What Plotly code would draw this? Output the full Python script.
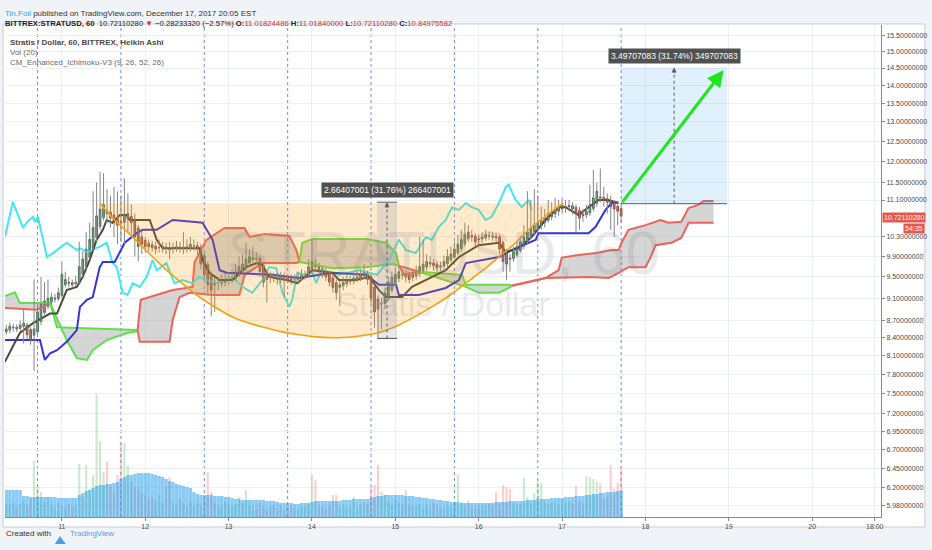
import math
import plotly.graph_objects as go

# ---------------- data ----------------
# hourly Heikin Ashi bars; x = hours since 11 Dec 00:00
bar_hours = list(range(-16, 162))

ha_open = [
    8.50, 8.53, 8.57, 8.58, 8.56, 8.59, 8.62, 8.54, 8.44, 8.50,
    8.68, 8.84, 8.95, 9.03, 9.08, 9.09, 9.15, 9.35, 9.40, 9.39,
    9.37, 9.39, 9.55, 9.70, 9.88, 10.07, 10.29, 10.52, 10.71, 10.86,
    10.83, 10.77, 10.69, 10.62, 10.61, 10.68, 10.74, 10.67, 10.49, 10.30,
    10.23, 10.17, 10.14, 10.11, 10.08, 10.08, 10.09, 10.08, 10.06, 10.07,
    10.09, 10.09, 10.07, 10.09, 10.12, 10.12, 10.09, 9.92, 9.74, 9.55,
    9.40, 9.38, 9.38, 9.40, 9.43, 9.44, 9.47, 9.54, 9.62, 9.69,
    9.77, 9.84, 9.86, 9.86, 9.73, 9.57, 9.51, 9.51, 9.50, 9.48,
    9.49, 9.49, 9.47, 9.45, 9.45, 9.48, 9.52, 9.52, 9.61, 9.71,
    9.71, 9.66, 9.61, 9.56, 9.48, 9.39, 9.30, 9.33, 9.37, 9.41,
    9.42, 9.45, 9.48, 9.52, 9.56, 9.51, 9.31, 9.08, 8.99, 9.00,
    9.10, 9.25, 9.38, 9.47, 9.54, 9.55, 9.53, 9.49, 9.52, 9.56,
    9.63, 9.69, 9.75, 9.77, 9.75, 9.72, 9.71, 9.76, 9.83, 9.89,
    9.97, 10.06, 10.16, 10.26, 10.33, 10.32, 10.26, 10.26, 10.28, 10.32,
    10.32, 10.31, 10.30, 10.18, 9.99, 9.87, 9.86, 9.93, 10.02, 10.11,
    10.21, 10.31, 10.41, 10.48, 10.54, 10.60, 10.65, 10.73, 10.79, 10.85,
    10.90, 10.95, 10.95, 10.97, 10.94, 10.87, 10.79, 10.77, 10.81, 10.91,
    11.03, 11.17, 11.16, 11.13, 11.09, 11.02, 10.96, 10.91]
ha_high = [
    8.62, 8.66, 8.64, 8.63, 8.70, 8.90, 8.66, 8.58, 9.45, 9.00,
    9.50, 9.40, 9.45, 9.20, 9.18, 9.30, 9.80, 9.60, 9.50, 9.45,
    9.52, 10.20, 10.00, 10.40, 10.60, 11.30, 11.50, 11.75, 11.72, 11.35,
    11.20, 11.40, 11.30, 11.20, 11.60, 11.25, 11.00, 10.80, 10.55, 10.40,
    10.30, 10.25, 10.22, 10.20, 10.25, 10.20, 10.18, 10.20, 10.18, 10.22,
    10.20, 10.40, 10.25, 10.30, 10.25, 10.20, 10.15, 9.98, 9.80, 9.60,
    9.48, 9.50, 9.55, 9.58, 9.60, 9.65, 9.75, 9.90, 9.95, 10.18,
    10.05, 10.10, 9.98, 9.92, 9.78, 9.62, 9.60, 9.58, 9.58, 9.60,
    9.58, 9.55, 9.55, 9.55, 9.60, 9.65, 9.62, 9.85, 10.24, 9.85,
    9.78, 9.72, 9.68, 9.62, 9.55, 9.45, 9.42, 9.50, 9.55, 9.52,
    9.58, 9.60, 9.65, 9.75, 9.62, 9.55, 9.35, 9.15, 9.10, 9.30,
    9.50, 9.60, 9.68, 9.72, 9.65, 9.62, 9.60, 9.65, 9.72, 10.30,
    10.25, 9.95, 9.90, 9.85, 9.82, 9.80, 9.92, 10.05, 10.10, 10.20,
    10.35, 10.45, 10.60, 10.55, 10.45, 10.38, 10.35, 10.40, 10.45, 10.42,
    10.40, 10.38, 10.35, 10.22, 10.05, 9.95, 10.10, 10.20, 10.32, 10.55,
    11.30, 11.10, 11.35, 11.20, 10.95, 10.90, 11.10, 11.05, 11.15, 11.10,
    11.15, 11.10, 11.10, 11.05, 11.00, 10.95, 10.90, 11.00, 11.45, 11.80,
    11.50, 11.83, 11.40, 11.25, 11.20, 11.10, 11.05, 11.00]
ha_low = [
    8.45, 8.48, 8.50, 8.50, 8.52, 8.30, 8.38, 8.28, 7.85, 8.45,
    8.62, 8.80, 8.90, 8.98, 9.02, 9.05, 9.10, 9.30, 9.30, 9.28,
    9.32, 9.35, 9.50, 9.65, 9.85, 10.00, 10.20, 10.45, 10.65, 10.60,
    10.50, 10.30, 10.15, 10.20, 10.15, 10.40, 10.35, 9.90, 9.80, 9.95,
    9.98, 10.00, 10.00, 9.95, 9.98, 9.98, 9.95, 9.85, 9.96, 10.00,
    9.98, 9.95, 9.98, 10.00, 10.02, 9.95, 9.65, 9.45, 9.20, 8.77,
    8.85, 9.25, 9.30, 9.32, 9.35, 9.38, 9.42, 9.50, 9.58, 9.62,
    9.70, 9.78, 9.75, 9.50, 9.30, 9.02, 9.38, 9.40, 9.35, 9.38,
    9.12, 9.38, 9.35, 9.38, 9.40, 9.42, 9.45, 9.48, 9.58, 9.60,
    9.50, 9.48, 9.42, 9.32, 9.20, 9.07, 8.95, 9.25, 9.30, 9.35,
    9.36, 9.40, 9.42, 9.45, 9.35, 9.00, 8.57, 8.40, 8.55, 8.90,
    9.05, 9.20, 9.30, 9.40, 9.45, 9.40, 9.38, 9.42, 9.45, 9.50,
    9.58, 9.62, 9.68, 9.62, 9.60, 9.62, 9.65, 9.70, 9.78, 9.85,
    9.92, 10.00, 10.10, 10.20, 10.20, 10.12, 10.15, 10.18, 10.22, 10.24,
    10.22, 10.20, 9.95, 9.60, 9.44, 9.60, 9.80, 9.88, 9.98, 10.05,
    10.15, 10.25, 10.35, 10.40, 10.45, 10.50, 10.60, 10.65, 10.70, 10.75,
    10.80, 10.82, 10.85, 10.78, 10.40, 10.45, 10.62, 10.70, 10.75, 10.85,
    10.95, 11.05, 10.95, 10.80, 10.45, 10.30, 10.55, 10.60]
ha_close = [
    8.55, 8.60, 8.58, 8.55, 8.62, 8.65, 8.45, 8.35, 8.55, 8.85,
    9.00, 9.05, 9.10, 9.12, 9.10, 9.20, 9.55, 9.45, 9.38, 9.35,
    9.40, 9.70, 9.85, 10.05, 10.25, 10.50, 10.75, 10.90, 11.00, 10.80,
    10.70, 10.60, 10.55, 10.60, 10.75, 10.80, 10.60, 10.30, 10.10, 10.15,
    10.10, 10.10, 10.08, 10.05, 10.08, 10.10, 10.06, 10.04, 10.08, 10.10,
    10.08, 10.05, 10.10, 10.15, 10.12, 10.05, 9.75, 9.55, 9.35, 9.25,
    9.35, 9.38, 9.42, 9.45, 9.45, 9.50, 9.60, 9.70, 9.75, 9.85,
    9.90, 9.88, 9.85, 9.60, 9.40, 9.45, 9.50, 9.48, 9.45, 9.50,
    9.48, 9.45, 9.42, 9.45, 9.50, 9.55, 9.52, 9.70, 9.80, 9.70,
    9.60, 9.55, 9.50, 9.40, 9.30, 9.20, 9.35, 9.40, 9.45, 9.42,
    9.48, 9.50, 9.55, 9.60, 9.45, 9.10, 8.85, 8.90, 9.00, 9.20,
    9.40, 9.50, 9.55, 9.60, 9.55, 9.50, 9.45, 9.55, 9.60, 9.70,
    9.75, 9.80, 9.78, 9.72, 9.68, 9.70, 9.80, 9.90, 9.95, 10.05,
    10.15, 10.25, 10.35, 10.40, 10.30, 10.20, 10.25, 10.30, 10.35, 10.32,
    10.30, 10.28, 10.05, 9.80, 9.75, 9.85, 10.00, 10.10, 10.20, 10.30,
    10.40, 10.50, 10.55, 10.60, 10.65, 10.70, 10.80, 10.85, 10.90, 10.95,
    11.00, 10.95, 10.98, 10.90, 10.80, 10.70, 10.75, 10.85, 11.00, 11.15,
    11.30, 11.15, 11.10, 11.05, 10.95, 10.90, 10.85, 10.75]

volume = [
    14, 12, 15, 10, 13, 16, 12, 18, 56, 30,
    25, 15, 20, 12, 10, 14, 11, 9, 13, 10,
    12, 53, 20, 52, 28, 42, 123, 76, 45, 55,
    30, 25, 42, 74, 74, 51, 35, 30, 28, 25,
    22, 18, 20, 16, 22, 15, 30, 40, 15, 12,
    18, 14, 10, 16, 12, 14, 11, 20, 45, 25,
    14, 12, 10, 15, 12, 11, 13, 20, 14, 27,
    12, 10, 9, 14, 11, 8, 10, 12, 9, 11,
    7, 10, 12, 9, 8, 10, 11, 13, 42, 37,
    12, 10, 9, 11, 22, 22, 10, 12, 9, 11,
    20, 10, 12, 14, 13, 30, 32, 52, 25, 22,
    15, 12, 18, 14, 12, 27, 12, 10, 11, 13,
    9, 12, 10, 14, 11, 9, 10, 12, 11, 13,
    43, 15, 12, 17, 10, 9, 11, 12, 10, 13,
    11, 25, 14, 32, 30, 28, 14, 12, 13, 39,
    20, 14, 24, 36, 34, 15, 13, 14, 16, 12,
    18, 14, 15, 13, 31, 16, 14, 41, 40, 38,
    35, 34, 18, 20, 52, 28, 34, 50]
volume_ma = [
    27, 27, 27, 27, 27, 21, 21, 20, 20, 20,
    20, 20, 20, 20, 20, 19, 19, 19, 19, 19,
    19, 22, 24, 26, 27, 29, 31, 32, 32, 33,
    33, 34, 35, 38, 40, 42, 42, 43, 44, 44,
    44, 44, 43, 42, 41, 40, 38, 36, 35, 33,
    32, 31, 30, 29, 25, 23, 22, 22, 22, 22,
    21, 21, 21, 20, 20, 19, 18, 18, 17, 17,
    17, 17, 17, 17, 17, 16, 16, 16, 15, 14,
    14, 14, 14, 13, 13, 14, 14, 14, 15, 16,
    16, 16, 16, 16, 16, 16, 16, 17, 17, 17,
    18, 18, 18, 18, 18, 19, 20, 21, 21, 22,
    22, 22, 22, 22, 22, 21, 21, 21, 20, 20,
    19, 19, 18, 18, 17, 17, 16, 16, 15, 15,
    15, 14, 14, 14, 14, 14, 14, 14, 14, 14,
    14, 15, 15, 15, 15, 16, 16, 16, 16, 16,
    17, 17, 17, 18, 18, 18, 18, 19, 19, 19,
    19, 20, 20, 20, 21, 21, 21, 22, 22, 23,
    23, 24, 24, 25, 25, 25, 26, 26]

# Ichimoku lines (hours, price)
tenkan_h = [-16.4, -12.1, -8.3, -3.4, -1.4, 1.4, 4.3, 6.0, 8.0, 10.0, 11.8, 12.9, 14.6, 16.7, 18.7,
            19.5, 25.3, 27.3, 29.0, 39.6, 40.5, 42.5, 45.4, 49.1, 53.1, 56.0, 57.7, 59.7, 64.6, 67.8,
            72.1, 77.8, 79.8, 84.7, 88.4, 91.3, 93.3, 97.9, 100.8, 106.5, 110.5, 114.3, 120.0, 125.8,
            127.8, 131.5, 135.2, 139.2, 143.0, 145.0, 148.7, 151.6, 154.5, 157.3, 160.2]
tenkan = [8.00, 8.48, 8.65, 8.82, 8.82, 9.25, 9.31, 9.50, 9.83, 10.24, 10.45, 10.66, 10.60, 10.77, 10.77,
          10.66, 10.66, 10.24, 10.07, 10.07, 9.83, 9.58, 9.44, 9.44, 9.69, 9.77, 9.73, 9.50, 9.44, 9.38,
          9.63, 9.58, 9.44, 9.44, 9.50, 9.25, 9.12, 9.12, 9.31, 9.50, 9.63, 9.89, 10.13, 10.18,
          9.99, 10.07, 10.30, 10.66, 10.94, 10.94, 10.77, 10.94, 11.10, 11.10, 11.03]
kijun_h = [-16.4, -6.3, -4.9, -3.4, -1.4, 1.4, 4.3, 5.2, 7.2, 8.9, 10.9, 11.8, 15.2, 18.1, 21.5,
           23.3, 27.3, 31.9, 37.6, 40.5, 43.4, 45.4, 47.4, 60.6, 68.3, 77.8, 87.6, 91.3, 96.2, 97.0,
           102.8, 106.5, 110.5, 114.3, 116.3, 125.8, 129.5, 134.4, 136.4, 137.2, 151.6, 153.6, 156.5,
           158.2, 160.2]
kijun = [8.36, 8.36, 8.03, 8.14, 8.19, 8.33, 8.53, 8.94, 9.07, 9.12, 9.69, 9.79, 9.79, 10.18, 10.38,
         10.45, 10.45, 10.66, 10.62, 10.60, 10.24, 9.63, 9.58, 9.54, 9.48, 9.58, 9.54, 9.35, 9.35, 9.16,
         9.16, 9.22, 9.29, 9.44, 9.77, 9.89, 10.03, 10.18, 10.24, 10.38, 10.38, 10.51, 10.88,
         11.03, 11.05]
chikou_h = [-16.4, -14.1, -11.2, -10.0, -8.3, -7.8, -6.9, -4.3, -2.6, 1.4,
            4.3, 5.2, 7.2, 10.9, 12.9, 14.6, 15.8, 17.5, 18.9, 20.4,
            22.4, 24.4, 26.1, 27.3, 30.1, 32.4, 34.7, 37.6, 39.6, 41.6,
            44.5, 49.1, 52.0, 54.8, 57.7, 59.7, 61.7, 63.5, 65.5, 66.3,
            67.8, 69.8, 72.1, 73.2, 74.9, 79.8, 85.6, 90.7, 94.2, 97.0,
            99.1, 101.9, 104.8, 106.5, 108.5, 110.5, 112.3, 114.3, 116.3, 118.0,
            120.0, 122.0, 123.7, 125.8, 127.8, 128.6, 130.6, 132.4, 134.4, 135.2]
chikou = [10.30, 11.06, 10.49, 10.62, 10.73, 10.62, 10.73, 9.89, 9.97, 10.18,
          10.03, 10.07, 9.99, 10.10, 10.18, 9.77, 9.69, 9.20, 9.16, 9.38,
          9.31, 9.50, 9.83, 9.63, 9.77, 9.38, 9.44, 9.38, 9.50, 9.44,
          9.38, 9.50, 9.31, 9.20, 9.44, 9.69, 9.67, 9.20, 8.94, 9.07,
          9.58, 9.54, 9.58, 9.38, 9.63, 9.54, 9.63, 9.54, 9.83, 10.24,
          10.03, 9.97, 10.30, 10.24, 10.51, 10.66, 10.94, 10.88, 11.03, 10.94,
          10.88, 10.66, 10.73, 11.03, 11.40, 11.45, 11.10, 10.94, 11.10, 10.88]
# cloud edges; bull flag (1 green / 0 red) = colour of the segment that starts at the point
span_hi_h = [-16.4, -13.5, -12.1, -3.4, -1.4, 21.8, 22.7, 31.9, 37.6, 38.2, 41.6, 46.8, 52.6, 54.0,
             58.3, 65.5, 67.5, 68.4, 69.2, 72.1, 87.6, 93.3, 96.2, 97.1, 98.5, 102.8, 106.6, 115.2,
             116.3, 128.7, 129.5, 134.4, 139.3, 143.0, 143.9, 148.8, 153.7, 158.3, 160.3, 161.1,
             163.1, 168.0, 172.3, 174.6, 178.3, 180.4, 183.2, 184.7, 187.6]
span_hi = [9.14, 9.21, 9.01, 9.01, 8.58, 8.53, 9.07, 9.25, 9.31, 9.79, 10.24, 10.49, 10.49, 10.30,
           10.36, 10.32, 10.03, 9.79, 10.18, 10.26, 10.26, 10.18, 9.97, 9.71, 9.69, 9.60, 9.58, 9.54,
           9.35, 9.35, 9.33, 9.40, 9.48, 9.63, 9.88, 9.93, 9.97, 10.03, 10.03, 10.18,
           10.45, 10.55, 10.66, 10.60, 10.62, 10.92, 10.99, 11.08, 11.08]
span_hi_bull = [1, 1, 1, 1, 1, 0, 0, 0, 0, 0, 0, 0, 0, 0, 0, 0, 0, 1, 1, 1, 1, 1, 1, 0, 0,
                1, 1, 1, 1, 1, 0, 0, 0, 0, 0, 0, 0, 0, 0, 0, 0, 0, 0, 0, 0, 0, 0, 0, 0]
span_lo_h = [-16.4, -7.2, -4.9, -3.4, 1.4, 4.3, 7.2, 8.9, 12.9, 18.7, 21.5, 21.8, 22.4, 31.0, 31.9,
             33.9, 36.8, 43.4, 51.1, 52.6, 57.7, 67.5, 68.4, 77.8, 87.6, 95.1, 97.1, 98.5, 102.8,
             116.3, 120.0, 125.8, 128.7, 129.5, 139.3, 151.7, 157.4, 160.3, 163.1, 168.0, 169.5,
             170.9, 175.5, 178.3, 180.4, 187.6]
span_lo = [8.92, 8.89, 8.96, 9.01, 8.36, 8.06, 8.03, 8.19, 8.36, 8.48, 8.51, 8.53, 8.33, 8.33, 8.71,
           9.12, 9.20, 9.16, 9.16, 9.54, 9.77, 9.77, 9.79, 9.67, 9.69, 9.75, 9.71, 9.54, 9.60,
           9.31, 9.20, 9.20, 9.29, 9.33, 9.48, 9.50, 9.48, 9.58, 9.69, 9.69, 9.89,
           10.13, 10.18, 10.28, 10.60, 10.60]
span_lo_bull = [0, 0, 0, 1, 1, 1, 1, 1, 1, 1, 1, 0, 0, 0, 0, 0, 0, 0, 0, 0, 0, 0, 1, 1, 1, 1, 0, 0,
                1, 1, 1, 1, 1, 0, 0, 0, 0, 0, 0, 0, 0, 0, 0, 0, 0, 0]

# drawings
arc_h = [10.91, 15.22, 20.38, 25.27, 30.15, 34.74, 39.62, 44.50, 49.10, 53.98, 58.86, 63.45, 68.33,
         74.07, 79.82, 85.56, 90.73, 97.04, 106.52, 111.40, 116.28, 120.88, 125.76, 130.64, 135.23,
         140.11, 144.42]
arc_price = [11.03, 10.66, 10.30, 9.95, 9.63, 9.37, 9.12, 8.92, 8.76, 8.65, 8.57, 8.50, 8.45,
             8.41, 8.40, 8.43, 8.48, 8.62, 8.94, 9.14, 9.38, 9.61, 9.89, 10.18, 10.51, 10.79, 11.03]
measure1 = dict(h0=90.7, h1=96.5, lo=8.38693, hi=11.05100, label="2.66407001 (31.76%) 266407001")
measure2 = dict(h0=161.0, h1=191.5, lo=11.01800, hi=14.51507, label="3.49707083 (31.74%) 349707083")
arrow_from = (161.0, 11.018)
arrow_to = (190.5, 14.44)

price_ticks = [15.5, 15.0, 14.5, 14.0, 13.5, 13.0, 12.5, 12.0, 11.5, 11.1, 10.3, 9.9, 9.5, 9.1,
               8.7, 8.4, 8.1, 7.8, 7.5, 7.2, 6.95, 6.7, 6.45, 6.2, 5.98]
day_ticks_h = [0, 24, 48, 72, 96, 120, 144, 168, 192, 216, 234]
day_labels = ["11", "12", "13", "14", "15", "16", "17", "18", "19", "20", "18:00"]
session_breaks_h = [-7, 17, 41, 65, 89, 113, 137, 161]
last_price = 10.72110280
countdown = "54:35"

# ---------------- layout geometry / style ----------------
W, H = 932, 550
ML, MR, MT, MB = 5, 49, 25, 33
PW, PH = W - ML - MR, H - MT - MB
FONT = "Liberation Sans, Arial, sans-serif"
GREEN_L, RED_L = "#5fe04a", "#ee625a"


def fx(px):
    return (px - ML) / PW


def fy(py):
    return (H - MB - py) / PH


lg = math.log10
n = min(len(bar_hours), len(ha_open), len(ha_high), len(ha_low), len(ha_close))
bh = bar_hours[:n]
o, c = ha_open[:n], ha_close[:n]
hi = [max(a, b, d) for a, b, d in zip(ha_high[:n], o, c)]
lo = [min(a, b, d) for a, b, d in zip(ha_low[:n], o, c)]

fig = go.Figure()

# volume (base axis y)
nv = min(n, len(volume), len(volume_ma))
vcol = ["rgba(76,175,80,0.28)" if c[i] >= o[i] else "rgba(239,83,80,0.28)" for i in range(nv)]
fig.add_trace(go.Bar(x=bh[:nv], y=volume[:nv], width=0.62, marker=dict(color=vcol, line=dict(width=0)),
                     yaxis="y", hoverinfo="skip"))
fig.add_trace(go.Bar(x=bh[:nv], y=volume_ma[:nv], width=0.95,
                     marker=dict(color="rgba(40,160,235,0.55)", line=dict(width=0)),
                     yaxis="y", hoverinfo="skip"))

# cloud fill
fig.add_trace(go.Scatter(x=span_hi_h, y=span_hi, mode="lines", line=dict(width=0), yaxis="y2",
                         hoverinfo="skip"))
fig.add_trace(go.Scatter(x=span_lo_h, y=span_lo, mode="lines", line=dict(width=0), yaxis="y2",
                         fill="tonexty", fillcolor="rgba(128,128,128,0.33)", hoverinfo="skip"))


def add_colored(hs, vs, flags):
    s = 0
    for k in range(1, len(hs)):
        if flags[k] != flags[s] or k == len(hs) - 1:
            fig.add_trace(go.Scatter(x=hs[s:k + 1], y=vs[s:k + 1], mode="lines", yaxis="y2",
                                     line=dict(color=GREEN_L if flags[s] else RED_L, width=2),
                                     hoverinfo="skip"))
            s = k


add_colored(span_hi_h, span_hi, span_hi_bull)
add_colored(span_lo_h, span_lo, span_lo_bull)

fig.add_trace(go.Scatter(x=chikou_h, y=chikou, mode="lines", line=dict(color="#3fe8f2", width=2),
                         yaxis="y2", hoverinfo="skip"))
fig.add_trace(go.Scatter(x=kijun_h, y=kijun, mode="lines", line=dict(color="#3434dc", width=2),
                         yaxis="y2", hoverinfo="skip"))
fig.add_trace(go.Scatter(x=tenkan_h, y=tenkan, mode="lines", line=dict(color="#4a4a3a", width=2),
                         yaxis="y2", hoverinfo="skip"))

# candle wicks and bodies
wx, wy = [], []
for i in range(n):
    wx += [bh[i], bh[i], None]
    wy += [lo[i], hi[i], None]
fig.add_trace(go.Scatter(x=wx, y=wy, mode="lines", line=dict(color="#858585", width=1), yaxis="y2",
                         hoverinfo="skip"))
fig.add_trace(go.Candlestick(
    x=bh, open=o, close=c, high=[max(a, b) for a, b in zip(o, c)], low=[min(a, b) for a, b in zip(o, c)],
    yaxis="y2", whiskerwidth=0,
    increasing=dict(line=dict(color="#2f6240", width=0.8), fillcolor="#5d9c72"),
    decreasing=dict(line=dict(color="#8c2b1d", width=0.8), fillcolor="#d9553f"),
    hoverinfo="skip"))

# cup arc drawing
fig.add_trace(go.Scatter(x=arc_h, y=arc_price, mode="lines", fill="toself", line=dict(width=0, shape="spline"),
                         fillcolor="rgba(255,152,0,0.2)", yaxis="y2", hoverinfo="skip"))
fig.add_trace(go.Scatter(x=arc_h, y=arc_price, mode="lines", line=dict(color="#f5a00f", width=1.6, shape="spline"),
                         yaxis="y2", hoverinfo="skip"))

# price-range measurements
for m, fillc, lines_both in ((measure1, "rgba(120,140,175,0.2)", True),
                             (measure2, "rgba(33,150,243,0.14)", False)):
    fig.add_trace(go.Scatter(x=[m["h0"], m["h1"], m["h1"], m["h0"], m["h0"]],
                             y=[m["lo"], m["lo"], m["hi"], m["hi"], m["lo"]],
                             mode="lines", fill="toself", fillcolor=fillc, line=dict(width=0),
                             yaxis="y2", hoverinfo="skip"))
    if lines_both:
        ex, ey = [m["h0"], m["h1"], None, m["h0"], m["h1"]], [m["lo"], m["lo"], None, m["hi"], m["hi"]]
    else:
        ex, ey = [m["h0"], m["h1"]], [m["lo"], m["lo"]]
    fig.add_trace(go.Scatter(x=ex, y=ey, mode="lines", line=dict(color="#5d5d5d", width=1),
                             yaxis="y2", hoverinfo="skip"))
    hc = (m["h0"] + m["h1"]) / 2
    fig.add_trace(go.Scatter(x=[hc, hc], y=[m["lo"], m["hi"]], mode="lines",
                             line=dict(color="#5d5d5d", width=1, dash="3px,3px"),
                             yaxis="y2", hoverinfo="skip"))

ann = []
for m in (measure1, measure2):
    hc = (m["h0"] + m["h1"]) / 2
    ann.append(dict(x=hc, y=lg(m["hi"]), xref="x", yref="y2", ax=0, ay=7, showarrow=True,
                    arrowhead=2, arrowsize=1, arrowwidth=1, arrowcolor="#5d5d5d", text=""))
    ann.append(dict(x=hc, y=lg(m["hi"]), xref="x", yref="y2", yshift=12, showarrow=False,
                    text=m["label"], bgcolor="rgba(66,66,66,0.92)", borderpad=2,
                    font=dict(family=FONT, size=8.5, color="white")))

# green projection arrow
ann.append(dict(x=arrow_to[0], y=lg(arrow_to[1]), ax=arrow_from[0], ay=lg(arrow_from[1]),
                xref="x", yref="y2", axref="x", ayref="y2", showarrow=True, text="",
                arrowhead=2, arrowsize=1.1, arrowwidth=3, arrowcolor="#1fe61f"))

# watermark
ann.append(dict(x=0.5, y=fy(252), xref="paper", yref="paper", showarrow=False, text="STRATUSD, 60",
                font=dict(family=FONT, size=62, color="rgba(120,123,134,0.16)")))
ann.append(dict(x=0.5, y=fy(304), xref="paper", yref="paper", showarrow=False, text="Stratis / Dollar",
                font=dict(family=FONT, size=34, color="rgba(120,123,134,0.18)")))

# header
ann.append(dict(x=fx(3), y=fy(7), xref="paper", yref="paper", xanchor="left", showarrow=False,
                text='<span style="color:#3d9be9">Tin.Foil</span> published on TradingView.com, December 17, 2017 20:05 EST',
                font=dict(family=FONT, size=8, color="#333333")))
red = "#d0312d"
ann.append(dict(x=fx(3), y=fy(17), xref="paper", yref="paper", xanchor="left", showarrow=False,
                text=('<b>BITTREX:STRATUSD, 60</b>  10.72110280 <span style="color:%s">▼</span> −0.28233320 (−2.57%%) '
                      '<b>O:</b><span style="color:%s">11.01824486</span> <b>H:</b><span style="color:%s">11.01840000</span> '
                      '<b>L:</b><span style="color:%s">10.72110280</span> <b>C:</b><span style="color:%s">10.84975582</span>')
                % (red, red, red, red, red),
                font=dict(family=FONT, size=7.7, color="#222222")))
# pane legend
for t, yy, col in (("<b>Stratis / Dollar, 60, BITTREX, Heikin Ashi</b>", 36, "#4a4a4a"),
                   ("Vol (20)", 46, "#6a6a6a"),
                   ("CM_Enhanced_Ichimoku-V3 (9, 26, 52, 26)", 56, "#6a6a6a")):
    ann.append(dict(x=fx(8), y=fy(yy), xref="paper", yref="paper", xanchor="left", showarrow=False,
                    text=t, font=dict(family=FONT, size=8, color=col)))
# price badges
ann.append(dict(x=fx(884), y=lg(last_price), xref="paper", yref="y2", xanchor="left", showarrow=False,
                text=f"{last_price:.8f}", bgcolor="#e5574b", borderpad=1,
                font=dict(family=FONT, size=7, color="white")))
ann.append(dict(x=fx(927), y=fy(228), xref="paper", yref="paper", xanchor="right", showarrow=False,
                text=countdown, bgcolor="#e5574b", borderpad=1,
                font=dict(family=FONT, size=7, color="white")))
# footer
ann.append(dict(x=fx(4), y=fy(540), xref="paper", yref="paper", xanchor="left", showarrow=False,
                text="Created with", font=dict(family=FONT, size=8, color="#333333")))
ann.append(dict(x=fx(68), y=fy(540), xref="paper", yref="paper", xanchor="left", showarrow=False,
                text="TradingView", font=dict(family=FONT, size=8, color="#47a3e6")))

shapes = [dict(type="rect", xref="paper", yref="paper", x0=fx(3), x1=fx(927), y0=fy(527), y1=fy(24),
               fillcolor="white", line=dict(color="#c9cdd4", width=1), layer="below")]
for sh in session_breaks_h:
    shapes.append(dict(type="line", xref="x", yref="paper", x0=sh, x1=sh, y0=0, y1=1,
                       line=dict(color="rgba(90,120,215,0.85)", width=1, dash="3px,3px"), layer="below"))
# tiny logo mark
shapes.append(dict(type="path", xref="paper", yref="paper",
                   path="M %f %f L %f %f L %f %f Z" % (fx(55), fy(544), fx(60), fy(536), fx(66), fy(544)),
                   fillcolor="#47a3e6", line=dict(width=0)))

fig.update_layout(
    width=W, height=H, margin=dict(l=ML, r=MR, t=MT, b=MB),
    paper_bgcolor="#f0f3f8", plot_bgcolor="white", showlegend=False, barmode="overlay",
    xaxis=dict(range=[-16.37, 235.8], tickvals=day_ticks_h, ticktext=day_labels, showgrid=True,
               gridcolor="#edf0f3", gridwidth=1, zeroline=False, ticks="outside", ticklen=3,
               tickcolor="#8a8a8a", showline=True, linecolor="#8a8a8a",
               tickfont=dict(family=FONT, size=7, color="#4a4a4a"), rangeslider=dict(visible=False)),
    yaxis=dict(range=[0, 492], visible=False, showgrid=False, zeroline=False),
    yaxis2=dict(type="log", range=[lg(5.843), lg(15.82)], overlaying="y", side="right",
                tickvals=price_ticks, ticktext=[f"{v:.8f}" for v in price_ticks], showgrid=True,
                gridcolor="#edf0f3", gridwidth=1, zeroline=False, ticks="outside", ticklen=3,
                tickcolor="#8a8a8a", showline=True, linecolor="#8a8a8a",
                tickfont=dict(family=FONT, size=7, color="#4a4a4a")),
    annotations=ann, shapes=shapes,
)

fig.write_html("out.html", config={"displayModeBar": False},
               post_script="document.body.style.margin='0px';document.body.style.overflow='hidden';")
